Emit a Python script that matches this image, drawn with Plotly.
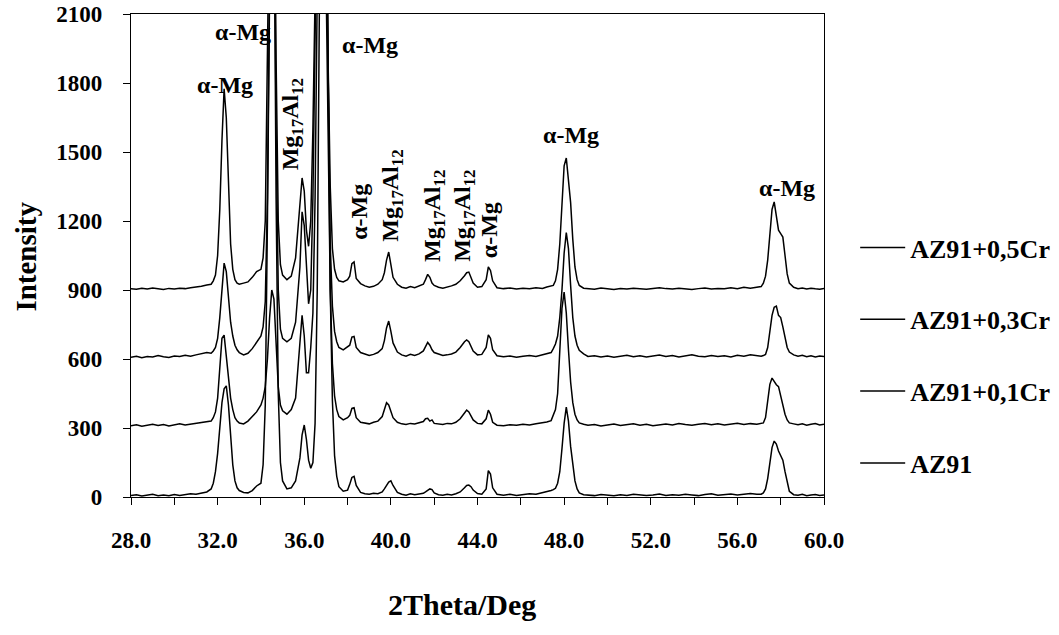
import plotly.graph_objects as go

# 2-theta sample positions (shared by all four patterns)
two_theta = [
    28.0, 28.25, 28.5, 28.75, 29.0, 29.25, 29.5, 29.75, 30.0, 30.25, 30.5, 30.75, 31.0, 31.25, 31.5,
    31.7, 31.8, 31.9, 32.0, 32.1, 32.2, 32.3, 32.4, 32.5, 32.6, 32.7, 32.8, 32.9, 33.0,
    33.2, 33.4, 33.6, 33.8, 34.0, 34.1, 34.2, 34.3, 34.4, 34.5, 34.6, 34.7, 34.8, 34.9, 35.0,
    35.2, 35.4, 35.6, 35.8, 35.9, 36.0, 36.1, 36.2, 36.3, 36.4, 36.5, 36.6, 36.7, 36.8, 36.9,
    37.0, 37.1, 37.2, 37.3, 37.4, 37.5, 37.6, 37.8, 38.0,
    38.1, 38.2, 38.3, 38.4, 38.6, 38.8, 39.0, 39.2, 39.4, 39.6, 39.7, 39.8, 39.9, 40.0, 40.1,
    40.3, 40.5, 40.7, 40.9, 41.1, 41.3, 41.5, 41.6, 41.7, 41.8, 41.9, 42.0, 42.2, 42.4, 42.6,
    42.8, 43.0, 43.2, 43.4, 43.5, 43.6, 43.7, 43.8, 44.0, 44.2, 44.4, 44.5, 44.6, 44.7, 44.9,
    45.2, 45.5, 45.8, 46.1, 46.4, 46.7, 47.0, 47.2, 47.4,
    47.5, 47.6, 47.7, 47.8, 47.9, 48.0, 48.1, 48.2, 48.3, 48.4, 48.5, 48.6, 48.7, 48.9,
    49.1, 49.4, 49.7, 50.0, 50.3, 50.6, 50.9, 51.2, 51.5, 51.8, 52.1, 52.4, 52.7, 53.0,
    53.3, 53.6, 53.9, 54.2, 54.5, 54.8, 55.1, 55.4, 55.7, 56.0, 56.3, 56.6, 56.9,
    57.1, 57.2, 57.3, 57.4, 57.5, 57.6, 57.7, 57.8, 57.9, 58.0, 58.1, 58.2, 58.3, 58.4, 58.6,
    58.8, 59.0, 59.2, 59.4, 59.6, 59.8, 60.0,
]

az91 = [
    6, 10, 4, 8, 12, 6, 9, 5, 11, 7, 10, 14, 12, 18, 22,
    35, 60, 110, 190, 300, 410, 470, 483, 400, 260, 140, 70, 40, 28,
    20, 18, 28, 48, 60, 140, 400, 1200, 2600, 3200, 2700, 1300, 450, 150, 70,
    35, 40, 70, 170, 270, 313, 250, 160, 125, 150, 320, 900, 2200, 3400, 3600,
    3000, 1900, 900, 420, 180, 90, 45, 25, 30,
    55, 85, 90, 50, 20, 14, 12, 16, 14, 22, 35, 50, 65, 70, 50,
    20, 12, 8, 14, 10, 12, 16, 22, 28, 35, 32, 18, 10, 8, 12,
    9, 14, 22, 40, 50, 52, 45, 30, 15, 12, 35, 115, 100, 40, 12,
    8, 12, 7, 10, 14, 12, 18, 22, 28,
    32, 38, 60, 110, 210, 320, 391, 330, 220, 130, 70, 35, 18, 10,
    9, 6, 11, 8, 5, 10, 7, 12, 8, 6, 9, 13, 7, 10,
    8, 12, 9, 6, 11, 14, 8, 10, 13, 9, 12, 15, 12,
    12, 18, 35, 80, 150, 215, 243, 230, 200, 180, 160, 110, 60, 25, 10,
    8, 12, 6, 9, 11, 7, 9,
]

az91_01cr = [
    310, 314, 308, 312, 316, 311, 315, 309, 314, 318, 313, 317, 320, 322, 326,
    330, 345, 370, 430, 560, 690, 704, 620, 510, 430, 380, 345, 330, 322,
    318, 330, 350, 370, 400, 430, 480, 600, 780, 900, 860, 650, 480, 400, 375,
    360, 380, 430, 700, 790, 700, 540, 540, 650, 800, 1300, 2200, 3000, 3300, 3000,
    2300, 1500, 900, 580, 440, 380, 350, 335, 345,
    355, 385, 388, 345, 325, 322, 318, 325, 330, 350, 380, 410, 400, 370, 345,
    325, 318, 315, 320, 317, 322, 328, 340, 342, 330, 335, 320, 318, 315, 320,
    318, 325, 340, 365, 378, 370, 350, 335, 320, 318, 340, 378, 360, 325, 312,
    310, 314, 312, 316, 313, 318, 322, 326, 332,
    360, 380, 450, 620, 820, 891, 800, 640, 500, 410, 360, 335, 322, 316,
    312, 315, 309, 313, 317, 311, 314, 318, 312, 316, 310, 314, 317, 313,
    319, 315, 312, 316, 320, 314, 318, 313, 317, 321, 315, 319, 316,
    318, 322, 345, 420, 490, 517, 500, 488, 480, 440, 400, 360, 335, 322, 318,
    314, 318, 312, 316, 319, 313, 316,
]

az91_03cr = [
    608, 612, 606, 611, 609, 615, 610, 607, 613, 611, 616, 612, 618, 622, 628,
    625, 635, 650, 690, 780, 920, 1017, 980, 860, 760, 700, 660, 640, 628,
    618, 625, 645, 670, 700, 740, 850, 1300, 2400, 3200, 2800, 1600, 900, 730, 690,
    675, 690, 760, 1000, 1240, 1180, 980, 840, 900, 1300, 2000, 3000, 3600, 3700, 3400,
    2600, 1700, 1100, 830, 720, 675, 650, 640, 655,
    660, 695, 698, 650, 628, 622, 615, 620, 628, 645, 680, 735, 765, 720, 670,
    630, 618, 612, 620, 615, 622, 635, 655, 672, 660, 640, 628, 620, 615, 618,
    622, 630, 650, 675, 683, 675, 655, 635, 618, 620, 650, 705, 690, 640, 614,
    610, 613, 608, 612, 615, 611, 617, 622, 628,
    645, 665, 700, 780, 900, 1060, 1150, 1080, 920, 780, 700, 660, 638, 622,
    611, 614, 609, 613, 608, 612, 616, 610, 614, 609, 613, 617, 611, 615,
    609, 613, 618, 612, 610, 615, 611, 614, 609, 616, 612, 618, 615,
    612, 615, 620, 650, 720, 790, 825, 830, 790, 780, 740, 690, 650, 630, 618,
    612, 616, 610, 614, 609, 613, 611,
]

az91_05cr = [
    906, 903, 908, 904, 909, 905, 902, 907, 904, 908, 906, 910, 912, 916, 922,
    925, 940, 965, 1050, 1250, 1550, 1775, 1650, 1350, 1100, 990, 945, 930, 925,
    930, 935, 955, 980, 990, 1040, 1200, 1700, 2700, 3400, 3000, 1900, 1200, 1010, 965,
    945, 960, 1040, 1250, 1387, 1330, 1160, 1090, 1200, 1600, 2400, 3300, 3800, 3900, 3600,
    2800, 1900, 1350, 1080, 990, 955, 940, 935, 945,
    960, 1015, 1022, 950, 928, 918, 912, 916, 925, 945, 975, 1030, 1065, 1010, 955,
    925, 912, 908, 915, 910, 916, 925, 945, 968, 955, 930, 920, 912, 908, 912,
    918, 925, 940, 962, 975, 978, 950, 930, 912, 915, 945, 1000, 985, 940, 910,
    906, 909, 904, 908, 905, 910, 907, 913, 918,
    920, 940, 990, 1100, 1280, 1440, 1474, 1360, 1280, 1120, 1000, 945, 920, 908,
    906, 903, 909, 905, 902, 907, 904, 908, 905, 903, 907, 910, 906, 904,
    908, 905, 902, 906, 909, 904, 907, 905, 910, 906, 912, 908, 911,
    915, 930, 960, 1030, 1150, 1250, 1283, 1220, 1160, 1145, 1130, 1050, 970, 930, 912,
    906, 909, 904, 908, 905, 903, 907,
]

series_names = ["AZ91+0,5Cr", "AZ91+0,3Cr", "AZ91+0,1Cr", "AZ91"]
series_values = [az91_05cr, az91_03cr, az91_01cr, az91]

x_tick_values = [28, 32, 36, 40, 44, 48, 52, 56, 60]
x_tick_labels = ["28.0", "32.0", "36.0", "40.0", "44.0", "48.0", "52.0", "56.0", "60.0"]
x_minor_ticks = [30, 34, 38, 42, 46, 50, 54, 58]
y_tick_values = [0, 300, 600, 900, 1200, 1500, 1800, 2100]

MG = "Mg<sub>17</sub>Al<sub>12</sub>"
peak_labels = [
    # text, 2theta, intensity, angle
    ("α-Mg", 32.34, 1792, 0),
    ("α-Mg", 33.17, 2022, 0),
    (MG, 35.43, 1620, -90),
    ("α-Mg", 39.03, 1965, 0),
    ("α-Mg", 38.53, 1240, -90),
    (MG, 40.05, 1310, -90),
    (MG, 41.99, 1222, -90),
    (MG, 43.37, 1222, -90),
    ("α-Mg", 44.53, 1160, -90),
    ("α-Mg", 48.31, 1575, 0),
    ("α-Mg", 58.29, 1345, 0),
]

FONT = "'Times New Roman', 'Liberation Serif', 'DejaVu Serif', serif"

for a, b in zip(series_names, series_values):
    assert len(b) == len(two_theta), (a, len(b), len(two_theta))

fig = go.Figure()
for i, (name, vals) in enumerate(zip(series_names, series_values)):
    fig.add_trace(go.Scatter(
        x=two_theta, y=vals, mode="lines", name=name,
        legendgroup=f"g{i}",
        line=dict(color="black", width=1.5),
    ))

for text, xv, yv, ang in peak_labels:
    fig.add_annotation(
        x=xv, y=yv, text="<b>" + text + "</b>", textangle=ang, showarrow=False,
        xref="x", yref="y", xanchor="center", yanchor="middle",
        font=dict(family=FONT, size=24, color="black"),
    )

fig.add_annotation(
    x=0.478, y=-0.222, xref="paper", yref="paper", text="<b>2Theta/Deg</b>",
    xanchor="center", yanchor="middle",
    showarrow=False, font=dict(family=FONT, size=30, color="black"),
)
fig.add_annotation(
    x=-0.152, y=0.497, xref="paper", yref="paper", text="<b>Intensity</b>", textangle=-90,
    xanchor="center", yanchor="middle",
    showarrow=False, font=dict(family=FONT, size=29, color="black"),
)

fig.update_layout(
    width=1059, height=635,
    margin=dict(l=131, r=235, t=14, b=138, autoexpand=False),
    paper_bgcolor="white", plot_bgcolor="white",
    font=dict(family=FONT, color="black"),
    showlegend=True,
    legend=dict(
        x=1.045, y=0.565, xanchor="left", yanchor="top",
        font=dict(family=FONT, size=26, color="black", weight="bold"),
        tracegroupgap=35, itemwidth=45, bgcolor="rgba(0,0,0,0)", traceorder="grouped",
    ),
    xaxis=dict(
        range=[28, 60], tickmode="array", tickvals=x_tick_values, ticktext=["<b>" + t + "</b>" for t in x_tick_labels],
        ticks="outside", ticklen=7, tickwidth=1, tickcolor="black",
        minor=dict(tickmode="array", tickvals=x_minor_ticks,
                   ticks="outside", ticklen=7, tickcolor="black"),
        showline=True, linecolor="black", linewidth=1.2, mirror=True,
        showgrid=False, zeroline=False,
        tickfont=dict(family=FONT, size=23, color="black"),
        ticklabelstandoff=15,
    ),
    yaxis=dict(
        range=[0, 2100], tickmode="array", tickvals=y_tick_values,
        ticktext=["<b>" + str(v) + "</b>" for v in y_tick_values],
        ticks="outside", ticklen=7, tickwidth=1, tickcolor="black",
        showline=True, linecolor="black", linewidth=1.2, mirror=True,
        showgrid=False, zeroline=False,
        tickfont=dict(family=FONT, size=23, color="black"),
        ticklabelstandoff=16,
    ),
)

fig.write_html("out.html")
